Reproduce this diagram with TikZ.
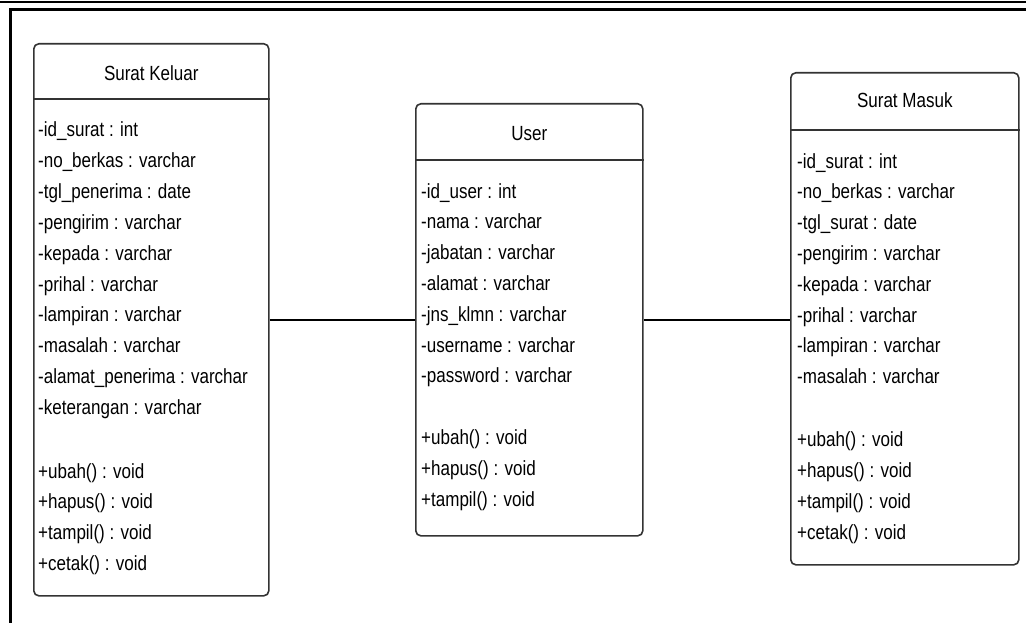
\documentclass[tikz,border=0pt]{standalone}
\usepackage{fontspec}
\setmainfont{Liberation Sans}[FakeStretch=0.83]
\usetikzlibrary{positioning}

\tikzset{
	kelas/.style={draw=black!80, line width=1.6pt, rounded corners=5pt, inner sep=0pt, anchor=north west},
	judul/.style={inner sep=0pt, font=\fontsize{20.5}{24}\selectfont},
	isi/.style={anchor=west, inner sep=0pt, text height=14pt, text depth=2pt, font=\fontsize{20.5}{24}\selectfont},
	garis/.style={line width=1.6pt, draw=black!80}
}

\begin{document}
\begin{tikzpicture}[x=1pt,y=-1pt]
	\useasboundingbox (0,0) rectangle (1026,623);
	\draw[line width=2.4pt] (0,2) -- (1026,2);
	\draw[line width=2.6pt] (10.5,623) -- (10.5,9.5) -- (1026,9.5);

	\node[kelas, minimum width=235pt, minimum height=552pt] (keluar) at (33,43) {};
	\node[kelas, minimum width=227pt, minimum height=432pt] (user) at (415,103) {};
	\node[kelas, minimum width=228pt, minimum height=492pt] (masuk) at (790,72) {};

	\draw[garis] ([yshift=-56pt]keluar.north west) -- ([yshift=-56pt]keluar.north east);
	\draw[garis] ([yshift=-57pt]user.north west) -- ([yshift=-57pt]user.north east);
	\draw[garis] ([yshift=-58pt]masuk.north west) -- ([yshift=-58pt]masuk.north east);

	\node[judul] (keluarT) at ([yshift=-30pt]keluar.north) {Surat Keluar};
	\node[judul] (userT) at ([yshift=-31pt]user.north) {User};
	\node[judul] (masukT) at ([yshift=-28pt]masuk.north) {Surat Masuk};

	\foreach \t [count=\i from 0] in {-id\_surat : int, -no\_berkas : varchar, -tgl\_penerima : date, -pengirim : varchar, -kepada : varchar, -prihal : varchar, -lampiran : varchar, -masalah : varchar, -alamat\_penerima : varchar, -keterangan : varchar}
		\node[isi] (ka\i) at (38,131+30.8*\i) {\t};
	\foreach \t [count=\i from 0] in {+ubah() : void, +hapus() : void, +tampil() : void, +cetak() : void}
		\node[isi] (km\i) at (38,472+30.7*\i) {\t};

	\foreach \t [count=\i from 0] in {-id\_user : int, -nama : varchar, -jabatan : varchar, -alamat : varchar, -jns\_klmn : varchar, -username : varchar, -password : varchar}
		\node[isi] (ua\i) at (421,192+30.8*\i) {\t};
	\foreach \t [count=\i from 0] in {+ubah() : void, +hapus() : void, +tampil() : void}
		\node[isi] (um\i) at (421,438+31*\i) {\t};

	\foreach \t [count=\i from 0] in {-id\_surat : int, -no\_berkas : varchar, -tgl\_surat : date, -pengirim : varchar, -kepada : varchar, -prihal : varchar, -lampiran : varchar, -masalah : varchar}
		\node[isi] (ma\i) at (797,162+30.8*\i) {\t};
	\foreach \t [count=\i from 0] in {+ubah() : void, +hapus() : void, +tampil() : void, +cetak() : void}
		\node[isi] (mm\i) at (797,440+31*\i) {\t};

	\draw[line width=1.6pt] (keluar.east) -- (keluar.east -| user.west);
	\draw[line width=1.6pt] (user.east) -- (user.east -| masuk.west);
\end{tikzpicture}
\end{document}
